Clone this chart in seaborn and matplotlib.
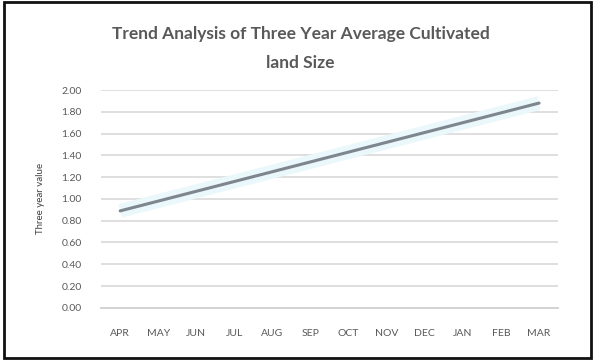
import matplotlib
matplotlib.use("Agg")
import matplotlib.pyplot as plt
import seaborn as sns
import pandas as pd
from matplotlib.patches import Rectangle

# Months of the season and the three-year average cultivated land size
months = ["APR", "MAY", "JUN", "JUL", "AUG", "SEP",
          "OCT", "NOV", "DEC", "JAN", "FEB", "MAR"]
three_year_value = [0.89, 0.98, 1.07, 1.16, 1.25, 1.34,
                    1.43, 1.52, 1.61, 1.70, 1.79, 1.88]
y_ticks = [0.00, 0.20, 0.40, 0.60, 0.80, 1.00,
           1.20, 1.40, 1.60, 1.80, 2.00]

df = pd.DataFrame({"month": months, "value": three_year_value})

sns.set_theme(style="white")
plt.rcParams["font.family"] = ["Lato", "DejaVu Sans"]

fig = plt.figure(figsize=(5.95, 3.6), dpi=100)
ax = fig.add_axes([0.170, 0.145, 0.768, 0.605])

# soft halo beneath the trend line
sns.lineplot(data=df, x="month", y="value", ax=ax, color="#eaf7fb",
             linewidth=10, sort=False, solid_capstyle="butt")
sns.lineplot(data=df, x="month", y="value", ax=ax, color="#7d868d",
             linewidth=2.2, sort=False)

ax.set_xlim(-0.5, len(months) - 0.5)
ax.set_ylim(0, 2.0)
ax.set_yticks(y_ticks)
ax.set_yticklabels([f"{v:.2f}" for v in y_ticks])
ax.grid(axis="y", color="#dcdcdc", linewidth=1.3)
ax.set_axisbelow(True)
for side in ["top", "right", "left"]:
    ax.spines[side].set_visible(False)
ax.spines["bottom"].set_color("#d0d0d0")
ax.spines["bottom"].set_linewidth(1.3)
ax.tick_params(axis="both", length=0, labelsize=7.5, labelcolor="#595959")
ax.tick_params(axis="x", pad=15)
ax.tick_params(axis="y", pad=14)
ax.set_xlabel("")
ax.set_ylabel("Three year value", fontsize=7, color="#404040", labelpad=12)

fig.text(0.505, 0.905, "Trend Analysis of Three Year Average Cultivated",
         ha="center", va="center", fontsize=12.5, fontweight="bold",
         color="#595959")
fig.text(0.505, 0.825, "land Size", ha="center", va="center",
         fontsize=12.5, fontweight="bold", color="#595959")

# chart-area frame
fig.patches.append(Rectangle((0.006, 0.006), 0.988, 0.988,
                             transform=fig.transFigure, fill=False,
                             edgecolor="#111111", linewidth=2.0))

fig.savefig("out.png", dpi=100)
